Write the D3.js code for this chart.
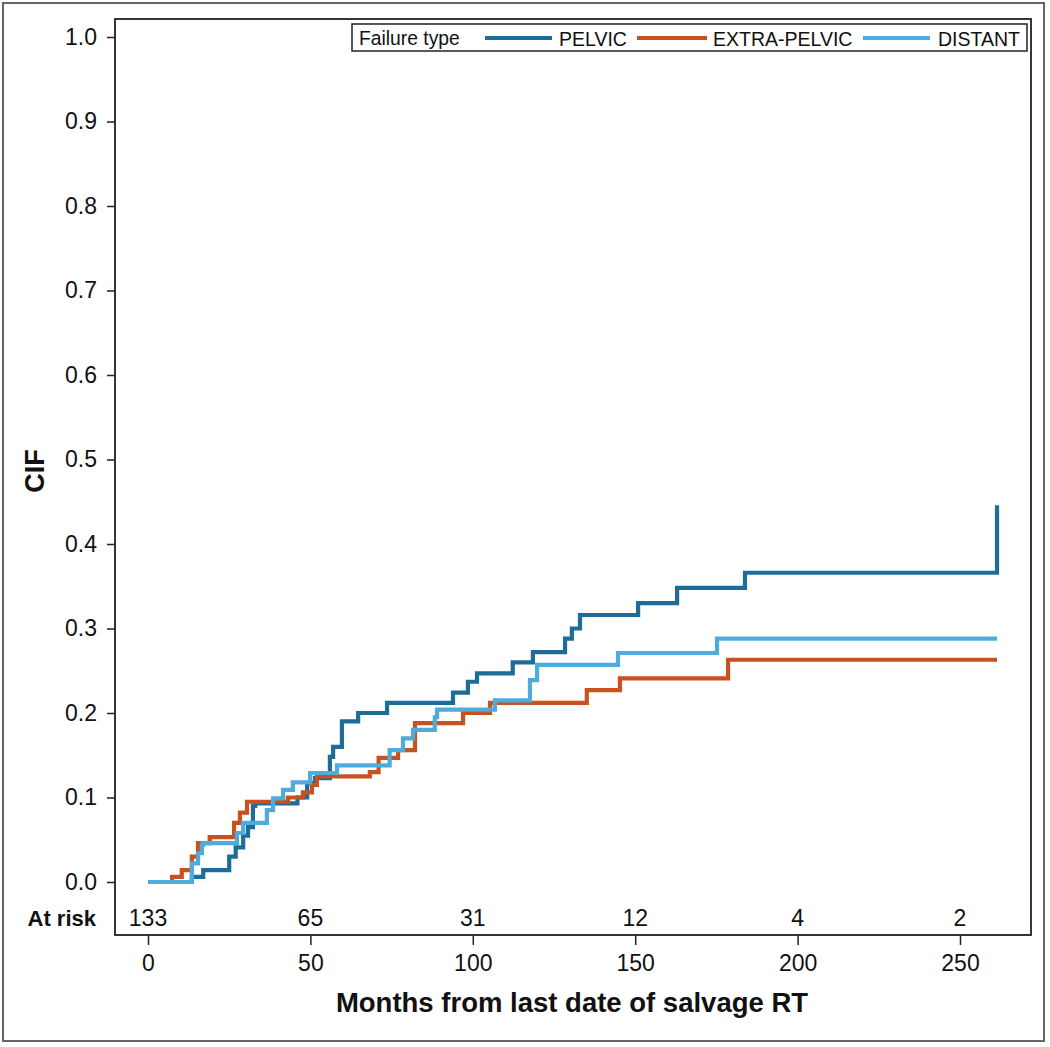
<!DOCTYPE html>
<html>
<head>
<meta charset="utf-8">
<script src="https://cdn.jsdelivr.net/npm/d3@7"></script>
<style>
  html, body { margin: 0; padding: 0; background: #fff; }
  text { font-family: "Liberation Sans", Arial, sans-serif; fill: #111; }
</style>
</head>
<body>
<svg id="chart" width="1050" height="1047"></svg>
<script>
// ---- data (months, CIF) ----
const seriesNames = ["PELVIC", "EXTRA-PELVIC", "DISTANT"];
const pelvic = [
  [0,0],[13.5,0.006],[17,0.014],[25,0.030],[27,0.041],[29.3,0.055],[30.8,0.065],[32.3,0.090],
  [33,0.093],[46,0.100],[49,0.117],[51.4,0.123],[56,0.148],[57,0.160],[59.7,0.190],[64.7,0.200],
  [73.6,0.212],[93.9,0.224],[98.5,0.237],[101.3,0.247],[112.3,0.260],[118.5,0.272],[128.4,0.288],
  [130.5,0.300],[133,0.316],[150.9,0.330],[162.9,0.348],[183.8,0.366],[261.4,0.446]
];
const extraPelvic = [
  [0,0],[7.4,0.006],[10.4,0.014],[13.5,0.030],[15.4,0.046],[19,0.053],[26.5,0.070],[28.3,0.082],
  [30.5,0.095],[43.1,0.100],[47.7,0.106],[50.5,0.115],[52,0.125],[68.3,0.130],[71,0.147],
  [77,0.156],[82.2,0.188],[97,0.200],[105.3,0.212],[135.1,0.227],[145.3,0.241],[178.6,0.263],
  [261.4,0.263]
];
const distant = [
  [0,0],[13.5,0.022],[15.4,0.034],[16.6,0.044],[17,0.046],[27.4,0.058],[29.3,0.070],[36.6,0.085],
  [38.5,0.099],[41.6,0.109],[44.6,0.118],[49.9,0.129],[58.2,0.138],[74.4,0.156],[78.5,0.170],
  [81.6,0.180],[88.3,0.195],[89,0.204],[106.8,0.215],[117.6,0.239],[119.8,0.257],[144.7,0.271],
  [175.2,0.288],[261.4,0.288]
];
const xTicks = [0, 50, 100, 150, 200, 250];
const yTicks = [0, 0.1, 0.2, 0.3, 0.4, 0.5, 0.6, 0.7, 0.8, 0.9, 1.0];
const atRisk = [133, 65, 31, 12, 4, 2];
const colors = ["#1d6d98", "#c8521f", "#4fabdc"];

// ---- layout ----
const svg = d3.select("#chart");
const box = {left: 115, top: 19, right: 1031, bottom: 935};
const x = d3.scaleLinear().domain([0, 250]).range([148, 960]);
const y = d3.scaleLinear().domain([0, 1]).range([882, 37]);

// outer frame
svg.append("rect").attr("x", 3).attr("y", 3).attr("width", 1041).attr("height", 1038)
  .attr("fill", "none").attr("stroke", "#666").attr("stroke-width", 2);

// plot box
svg.append("rect").attr("x", box.left).attr("y", box.top)
  .attr("width", box.right - box.left).attr("height", box.bottom - box.top)
  .attr("fill", "none").attr("stroke", "#222").attr("stroke-width", 1.8);

// y axis
const yAxis = d3.axisLeft(y).tickValues(yTicks).tickFormat(d3.format(".1f")).tickSize(8).tickPadding(10);
const gy = svg.append("g").attr("transform", `translate(${box.left},0)`).call(yAxis);
gy.select(".domain").remove();
gy.selectAll("line").attr("stroke", "#222").attr("stroke-width", 1.5);
gy.selectAll("text").style("font-size", "23px").style("font-family", "Liberation Sans, Arial, sans-serif").attr("fill", "#111");

// x axis
const xAxis = d3.axisBottom(x).tickValues(xTicks).tickFormat(d3.format("d")).tickSize(10).tickPadding(10);
const gx = svg.append("g").attr("transform", `translate(0,${box.bottom})`).call(xAxis);
gx.select(".domain").remove();
gx.selectAll("line").attr("stroke", "#222").attr("stroke-width", 1.5);
gx.selectAll("text").style("font-size", "23px").style("font-family", "Liberation Sans, Arial, sans-serif").attr("fill", "#111");

// at risk
svg.append("text").attr("x", 96).attr("y", 926).attr("text-anchor", "end")
  .style("font-size", "22px").style("font-weight", "bold").text("At risk");
svg.selectAll(".risk").data(atRisk).enter().append("text")
  .attr("x", (d, i) => x(xTicks[i])).attr("y", 926).attr("text-anchor", "middle")
  .style("font-size", "23px").text(d => d);

// axis titles
svg.append("text").attr("x", 572).attr("y", 1012).attr("text-anchor", "middle")
  .style("font-size", "27.5px").style("font-weight", "bold").text("Months from last date of salvage RT");
svg.append("text").attr("transform", "translate(44,471) rotate(-90)").attr("text-anchor", "middle")
  .style("font-size", "27px").style("font-weight", "bold").text("CIF");

// curves
const line = d3.line().x(d => x(d[0])).y(d => y(d[1])).curve(d3.curveStepAfter);
[pelvic, extraPelvic, distant].forEach((s, i) => {
  svg.append("path").datum(s).attr("d", line).attr("fill", "none")
    .attr("stroke", colors[i]).attr("stroke-width", 4.2).attr("stroke-linejoin", "miter");
});

// legend
const lg = svg.append("g");
lg.append("rect").attr("x", 352).attr("y", 24).attr("width", 675).attr("height", 27)
  .attr("fill", "#fff").attr("stroke", "#222").attr("stroke-width", 1.5);
lg.append("text").attr("x", 359).attr("y", 45).style("font-size", "19.3px").text("Failure type");
const legItems = [
  {lx1: 485, lx2: 552, tx: 559},
  {lx1: 637, lx2: 707, tx: 713},
  {lx1: 863, lx2: 930, tx: 938}
];
legItems.forEach((it, i) => {
  lg.append("line").attr("x1", it.lx1).attr("x2", it.lx2).attr("y1", 38).attr("y2", 38)
    .attr("stroke", colors[i]).attr("stroke-width", 4.2);
  lg.append("text").attr("x", it.tx).attr("y", 45.5).style("font-size", "19.5px").text(seriesNames[i]);
});
</script>
</body>
</html>
